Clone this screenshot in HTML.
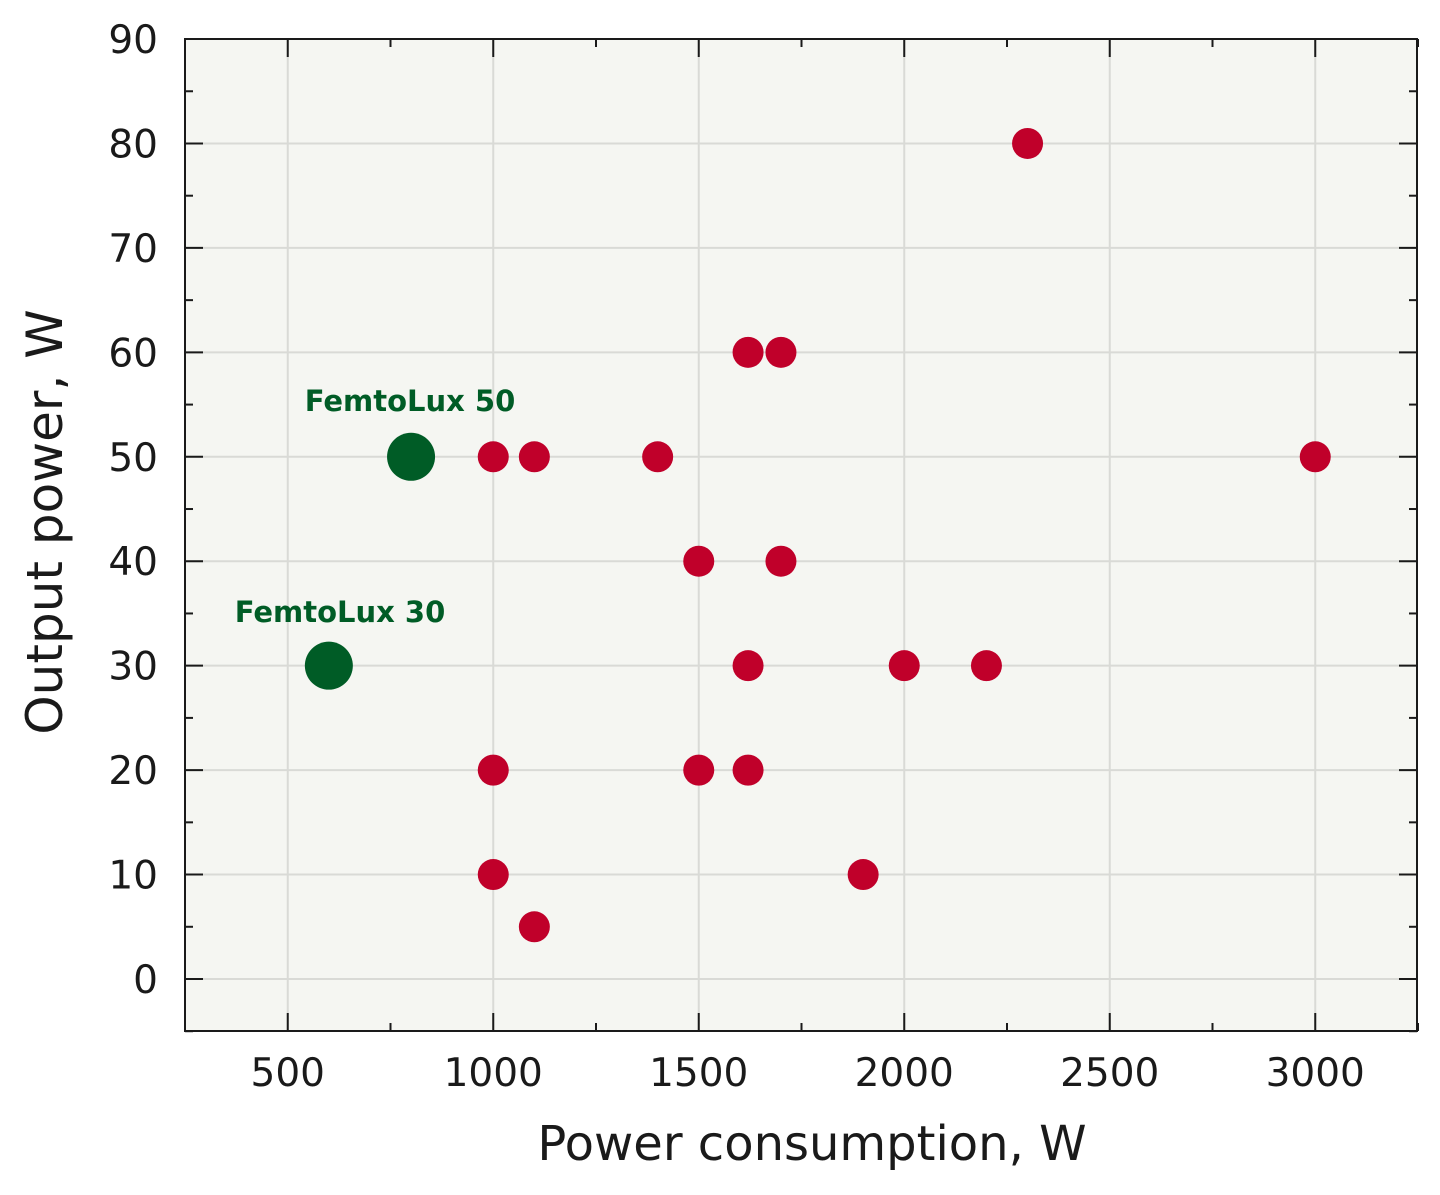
<!DOCTYPE html>
<html><head><meta charset="utf-8"><style>
html,body{margin:0;padding:0;background:#fff;}
svg{display:block;font-family:"Segoe UI","DejaVu Sans","Liberation Sans",sans-serif;}
</style></head><body>
<svg id="s" width="1440" height="1195" viewBox="0 0 1440 1195" xmlns="http://www.w3.org/2000/svg">
<rect x="185" y="39" width="1232" height="992" fill="#f5f6f2"/>
<g id="grid" stroke="#d9dad6" stroke-width="2"></g>
<g id="ticks" stroke="#1a1a1a" stroke-width="2"></g>
<rect x="185" y="39" width="1232" height="992" fill="none" stroke="#1a1a1a" stroke-width="2"/>
<g id="lab" fill="#1a1a1a" font-size="39"></g>
<g id="pts"></g>
<text x="410" y="411" font-size="29" font-weight="bold" fill="#005c26" text-anchor="middle">FemtoLux 50</text>
<text x="340" y="622" font-size="29" font-weight="bold" fill="#005c26" text-anchor="middle">FemtoLux 30</text>
<text x="812" y="1160" font-size="48" fill="#1a1a1a" text-anchor="middle">Power consumption, W</text>
<text transform="translate(62,522) rotate(-90)" font-size="50" fill="#1a1a1a" text-anchor="middle">Output power, W</text>
</svg>
<script>
var NS="http://www.w3.org/2000/svg";
function X(v){return 185+(v-250)*0.411;}
function Y(v){return 979-v*10.444;}
function el(p,t,a,txt){var e=document.createElementNS(NS,t);for(var k in a)e.setAttribute(k,a[k]);if(txt!=null)e.textContent=txt;document.getElementById(p).appendChild(e);}
for(var v=500;v<=3000;v+=500){var x=X(v);el("grid","line",{x1:x,x2:x,y1:39,y2:1031});
el("ticks","line",{x1:x,x2:x,y1:1031,y2:1013});el("ticks","line",{x1:x,x2:x,y1:39,y2:57});
el("lab","text",{x:x,y:1086,"text-anchor":"middle"},v);}
for(var v=250;v<=3250;v+=250){if(v%500==0)continue;var x=X(v);el("ticks","line",{x1:x,x2:x,y1:1031,y2:1023});el("ticks","line",{x1:x,x2:x,y1:39,y2:47});}
for(var v=0;v<=90;v+=10){var y=Y(v);if(v<90)el("grid","line",{x1:185,x2:1417,y1:y,y2:y});
el("ticks","line",{x1:185,x2:203,y1:y,y2:y});el("ticks","line",{x1:1417,x2:1399,y1:y,y2:y});
el("lab","text",{x:158,y:y+14,"text-anchor":"end"},v);}
for(var v=-5;v<=85;v+=10){var y=Y(v);el("ticks","line",{x1:185,x2:193,y1:y,y2:y});el("ticks","line",{x1:1417,x2:1409,y1:y,y2:y});}
var red=[[2300,80],[1620,60],[1700,60],[1000,50],[1100,50],[1400,50],[3000,50],[1500,40],[1700,40],[1620,30],[2000,30],[2200,30],[1000,20],[1500,20],[1620,20],[1000,10],[1900,10],[1100,5]];
red.forEach(function(p){el("pts","circle",{cx:X(p[0]),cy:Y(p[1]),r:15.5,fill:"#c0002a"});});
[[600,30],[800,50]].forEach(function(p){el("pts","circle",{cx:X(p[0]),cy:Y(p[1]),r:24,fill:"#005c26"});});
</script>
</body></html>
